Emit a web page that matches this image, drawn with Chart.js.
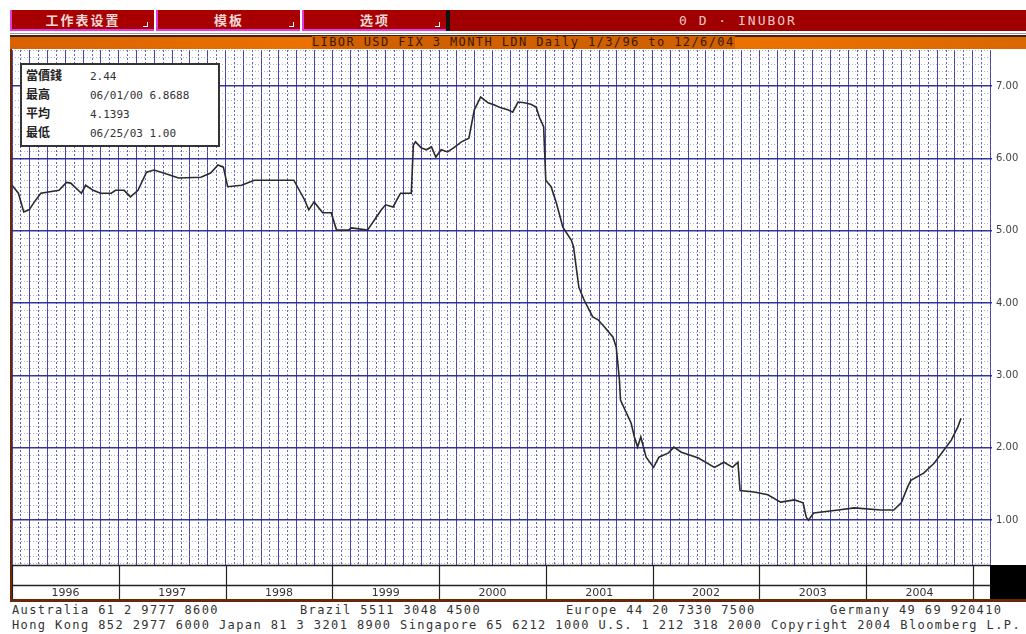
<!DOCTYPE html>
<html><head><meta charset="utf-8">
<script src="https://cdn.jsdelivr.net/npm/chart.js@4.4.0/dist/chart.umd.min.js"></script>
<style>
body{margin:0;width:1026px;height:634px;background:#fff;position:relative;overflow:hidden;font-family:"DejaVu Sans Mono",monospace}
.tab{position:absolute;top:10px;height:21px;background:#a80000;color:#f2d8d8;font:bold 13px "Noto Sans CJK SC";letter-spacing:2px;text-align:center;line-height:20px;border-left:2px solid #e03ce0;border-bottom:2px solid #e03ce0;box-sizing:border-box}
.tab i{position:absolute;right:6px;bottom:2px;width:4px;height:4px;border-right:1px solid #fff;border-bottom:1px solid #fff}
.mono{position:absolute;font:12px "DejaVu Sans Mono";letter-spacing:1.4px;color:#333;white-space:pre}
#legend{position:absolute;left:20px;top:63px;width:196px;height:80px;background:#fff;border:2px solid #333;z-index:3;font:11px "DejaVu Sans Mono";color:#333}
#legend div{position:absolute;left:4px;white-space:pre}
#legend b{font:bold 12px "Noto Sans CJK TC";color:#222;display:inline-block;width:64px}
</style></head>
<body>
<div class="tab" style="left:10px;width:144px">工作表设置<i></i></div>
<div class="tab" style="left:156px;width:144px">模板<i></i></div>
<div class="tab" style="left:302px;width:144px">选项<i></i></div>
<div style="position:absolute;left:446px;top:10px;width:4px;height:21px;background:#111"></div>
<div style="position:absolute;left:450px;top:10px;width:576px;height:21px;background:#a00000;color:#f0c8c8;font:13px 'DejaVu Sans Mono';letter-spacing:2px;text-align:center;line-height:21px">0 D · INUBOR</div>
<div style="position:absolute;left:10px;top:33px;width:1016px;height:1px;background:#999"></div>
<div style="position:absolute;left:10px;top:35px;width:1016px;height:2px;background:#402010"></div>
<div style="position:absolute;left:10px;top:37px;width:1016px;height:12px;background:linear-gradient(90deg,#d86200,#f07800 40%,#e87000 80%,#d86800)"></div>
<div class="mono" style="left:312px;top:36px;height:13px;line-height:13px;color:#3a1800;background:#d06000">LIBOR USD FIX 3 MONTH LDN Daily 1/3/96 to 12/6/04</div>

<div style="position:absolute;left:10px;top:49px;width:2px;height:552px;background:#6a2808"></div>
<div style="position:absolute;left:10px;top:599px;width:1016px;height:3px;background:#6a2808"></div>
<div style="position:absolute;left:12px;top:49px;width:1014px;height:550px"><canvas id="c"></canvas></div>

<div id="legend">
<div style="top:1px"><b>當價錢</b>2.44</div>
<div style="top:20px"><b>最高</b>06/01/00 6.8688</div>
<div style="top:39px"><b>平均</b>4.1393</div>
<div style="top:58px"><b>最低</b>06/25/03 1.00</div>
</div>

<div class="mono" style="left:12px;top:603px">Australia 61 2 9777 8600</div>
<div class="mono" style="left:300px;top:603px">Brazil 5511 3048 4500</div>
<div class="mono" style="left:566px;top:603px">Europe 44 20 7330 7500</div>
<div class="mono" style="left:830px;top:603px">Germany 49 69 920410</div>
<div class="mono" style="left:12px;top:618px">Hong Kong 852 2977 6000 Japan 81 3 3201 8900 Singapore 65 6212 1000 U.S. 1 212 318 2000 Copyright 2004 Bloomberg L.P.</div>

<script>
// 3M USD LIBOR, decimal year vs rate
const dates=[1996.00,1996.06,1996.11,1996.16,1996.21,1996.27,1996.44,1996.51,1996.55,1996.65,1996.69,1996.76,1996.83,1996.93,1996.97,
  1997.05,1997.11,1997.18,1997.26,1997.33,1997.42,1997.56,1997.77,1997.86,1997.93,1997.98,
  1998.02,1998.15,1998.27,1998.33,1998.64,1998.74,1998.78,1998.83,1998.91,1998.99,
  1999.04,1999.15,1999.18,1999.33,1999.46,1999.50,1999.57,1999.62,1999.64,1999.74,1999.76,1999.78,1999.83,1999.88,1999.93,1999.97,
  2000.02,2000.08,2000.14,2000.21,2000.28,2000.33,2000.39,2000.46,2000.52,2000.58,2000.65,2000.69,2000.74,2000.80,2000.86,2000.91,2000.94,2000.98,
  2001.00,2001.05,2001.10,2001.16,2001.24,2001.26,2001.31,2001.36,2001.44,2001.49,2001.55,2001.63,2001.66,2001.69,2001.70,2001.80,2001.83,2001.86,2001.89,2001.94,
  2002.01,2002.06,2002.15,2002.20,2002.27,2002.43,2002.58,2002.67,2002.75,2002.80,2002.82,2002.95,
  2003.08,2003.20,2003.33,2003.41,2003.44,2003.46,2003.51,2003.74,2003.89,
  2004.14,2004.26,2004.33,2004.39,2004.42,2004.54,2004.64,2004.73,2004.80,2004.86,2004.89];
const rates=[5.63,5.52,5.26,5.29,5.40,5.52,5.56,5.67,5.66,5.52,5.63,5.56,5.52,5.52,5.56,
  5.56,5.47,5.56,5.81,5.84,5.80,5.73,5.74,5.80,5.91,5.88,
  5.61,5.63,5.70,5.70,5.70,5.43,5.29,5.40,5.25,5.25,
  5.01,5.01,5.04,5.01,5.29,5.36,5.33,5.47,5.52,5.52,6.19,6.23,6.15,6.12,6.16,6.02,
  6.12,6.09,6.15,6.23,6.28,6.67,6.85,6.77,6.74,6.70,6.67,6.64,6.78,6.77,6.75,6.71,6.57,6.44,
  5.70,5.61,5.38,5.05,4.87,4.78,4.22,4.04,3.81,3.77,3.67,3.53,3.39,2.94,2.66,2.34,2.15,2.01,2.15,1.87,
  1.73,1.87,1.93,2.01,1.94,1.86,1.73,1.80,1.73,1.80,1.41,1.39,
  1.35,1.25,1.28,1.24,1.04,1.00,1.10,1.14,1.17,
  1.14,1.14,1.24,1.46,1.55,1.65,1.79,1.97,2.11,2.29,2.41];
const yearLabels=['1996','1997','1998','1999','2000','2001','2002','2003','2004'];
const yTickVals=[1,2,3,4,5,6,7];
const yTickLabels=['1.00','2.00','3.00','4.00','5.00','6.00','7.00'];

const X_MIN=1996,X_MAX=2005.18,Y_MIN=0.38,Y_MAX=7.5;
const monthTicks=[];for(let k=0;1996+k/12<=X_MAX;k++)monthTicks.push({value:1996+k/12});
const tenthTicks=[];for(let k=4;k<=75;k++)tenthTicks.push({value:k/10});
const isInt=v=>Math.abs(v-Math.round(v))<1e-6;

const yearBox={id:'yearBox',afterDraw(ch){
  const c=ch.ctx,a=ch.chartArea,x=ch.scales.x,b=a.bottom;
  c.save();
  c.fillStyle='#000';c.fillRect(a.right-2,b,ch.width-a.right+2,34);
  c.strokeStyle='#222';c.lineWidth=1.5;
  c.beginPath();c.moveTo(0,b+0.5);c.lineTo(a.right-2,b+0.5);
  c.moveTo(0,b+20.5);c.lineTo(a.right-2,b+20.5);c.stroke();
  c.lineWidth=1.2;c.beginPath();
  for(let y=0;y<=yearLabels.length;y++){const px=Math.round(x.getPixelForValue(1996+y))+0.5;c.moveTo(px,b);c.lineTo(px,b+34);}
  c.stroke();c.restore();
}};

new Chart(document.getElementById('c'),{type:'line',
  data:{datasets:[{data:dates.map((d,i)=>({x:d,y:rates[i]})),borderColor:'#2b2b2b',borderWidth:1.6,pointRadius:0,tension:0}]},
  options:{responsive:true,maintainAspectRatio:false,animation:false,
    layout:{padding:{top:1,left:0,right:0,bottom:0}},
    plugins:{legend:{display:false},tooltip:{enabled:false}},
    scales:{
      x:{type:'linear',min:X_MIN,max:X_MAX,
        afterBuildTicks:s=>{s.ticks=monthTicks.map(t=>({value:t.value}));},
        afterFit:s=>{s.height=34;s.paddingLeft=0;s.paddingRight=0;},
        grid:{drawTicks:false,
          color:ctx=>ctx.index%2===0?'rgba(50,50,160,0.9)':'rgba(70,70,185,0.85)',
          lineWidth:1},
        border:{display:false,dash:ctx=>ctx.index!==undefined&&ctx.index%2===1?[2,2]:[]},
        ticks:{autoSkip:false,maxRotation:0,padding:22,color:'#333',font:{family:'DejaVu Sans',size:11},
          callback:(v,i)=>i%12===6?yearLabels[Math.floor(i/12)]||'':''}},
      y:{position:'right',min:Y_MIN,max:Y_MAX,
        afterBuildTicks:s=>{s.ticks=tenthTicks.map(t=>({value:t.value}));},
        afterFit:s=>{s.width=34;s.paddingTop=0;s.paddingBottom=0;},
        grid:{drawTicks:false,
          color:ctx=>ctx.tick&&isInt(ctx.tick.value)?'rgba(40,40,150,0.95)':'rgba(120,120,205,0.6)',
          lineWidth:ctx=>ctx.tick&&isInt(ctx.tick.value)?1.6:1},
        border:{display:false,dash:ctx=>ctx.tick&&!isInt(ctx.tick.value)?[1,2]:[]},
        ticks:{autoSkip:false,padding:4,color:'#444',font:{family:'DejaVu Sans',size:10},
          callback:v=>{const i=yTickVals.findIndex(t=>Math.abs(t-v)<1e-6);return i<0?'':yTickLabels[i];}}}
    }},
  plugins:[yearBox]
});
</script>
</body></html>
